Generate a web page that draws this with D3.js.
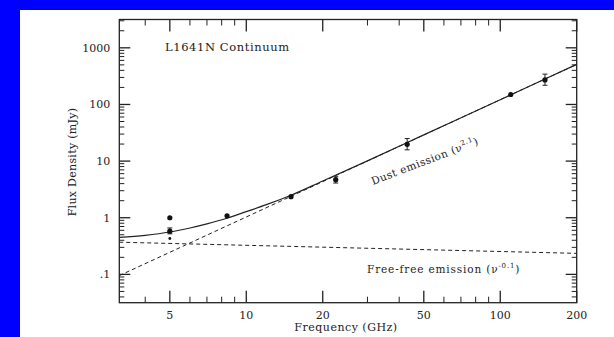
<!DOCTYPE html>
<html>
<head>
<meta charset="utf-8">
<script src="https://cdn.jsdelivr.net/npm/d3@7"></script>
<style>
  html, body { margin: 0; padding: 0; background: #0000fe; }
  svg { display: block; }
  text { font-family: "DejaVu Serif", "Liberation Serif", serif; fill: #222; }
</style>
</head>
<body>
<svg id="chart" width="614" height="337"></svg>
<script>
// ---- data ----
const xTickValues = [5, 10, 20, 50, 100, 200];
const xTickLabels = ["5", "10", "20", "50", "100", "200"];
const xMinorTicks = [4, 6, 7, 8, 9, 30, 40, 60, 70, 80, 90];
const yTickValues = [0.1, 1, 10, 100, 1000];
const yTickLabels = [".1", "1", "10", "100", "1000"];

const obsFreq  = [5, 5, 5, 8.4, 15, 22.5, 43, 110, 150];
const obsFlux  = [1.0, 0.58, 0.43, 1.08, 2.35, 4.7, 19.8, 150, 271];
const obsErrLo = [null, 0.52, null, null, null, 4.1, 15.8, null, 218];
const obsErrHi = [null, 0.66, null, null, null, 5.3, 25, null, 343];
const obsSmall = [false, false, true, false, false, false, false, false, false];

const totalFreq = [3.16, 4, 5, 6, 7, 8.4, 10, 12, 15, 20, 30, 50, 100, 150, 200];
const totalFlux = [0.45, 0.49, 0.56, 0.66, 0.78, 0.98, 1.28, 1.7, 2.5, 4.45, 10.1, 29, 121, 282, 510];

const dustFreq = [3.16, 200];
const dustFlux = [0.095, 510];

const ffFreq = [3.16, 200];
const ffFlux = [0.37, 0.235];

// ---- layout ----
const svg = d3.select("#chart");
svg.append("rect").attr("x", 20).attr("y", 10).attr("width", 594).attr("height", 327).attr("fill", "#ffffff");

const x0 = 119.3, x1 = 576.7, y0 = 19.5, y1 = 302.7;
const x = d3.scaleLog().domain([Math.pow(10, 0.5), 200]).range([x0, x1]);
const y = d3.scaleLog().domain([Math.pow(10, -1.5), Math.pow(10, 3.5)]).range([y1, y0]);

const ink = "#222";
const g = svg.append("g");

// frame
g.append("rect").attr("x", x0).attr("y", y0).attr("width", x1 - x0).attr("height", y1 - y0)
  .attr("fill", "none").attr("stroke", ink).attr("stroke-width", 1.3);

// y ticks (log minors)
const yTicks = [];
for (let e = -2; e <= 3; e++) {
  for (let k = 1; k <= 9; k++) {
    const v = k * Math.pow(10, e);
    if (v > y.domain()[0] && v < y.domain()[1]) yTicks.push({ v, major: k === 1 });
  }
}
const yt = g.append("g");
yTicks.forEach(t => {
  const L = t.major ? 11 : 5;
  yt.append("line").attr("x1", x0).attr("x2", x0 + L).attr("y1", y(t.v)).attr("y2", y(t.v))
    .attr("stroke", ink).attr("stroke-width", t.major ? 1.3 : 1);
  yt.append("line").attr("x1", x1).attr("x2", x1 - L).attr("y1", y(t.v)).attr("y2", y(t.v))
    .attr("stroke", ink).attr("stroke-width", t.major ? 1.3 : 1);
});
yTickValues.forEach((v, i) => {
  g.append("text").attr("x", x0 - 9).attr("y", y(v)).attr("dy", "0.35em")
    .attr("text-anchor", "end").attr("font-size", 11).text(yTickLabels[i]);
});

// x ticks
const xt = g.append("g");
xTickValues.concat(xMinorTicks).forEach(v => {
  const major = xTickValues.includes(v);
  const L = major ? 12 : 6;
  xt.append("line").attr("x1", x(v)).attr("x2", x(v)).attr("y1", y1).attr("y2", y1 - L)
    .attr("stroke", ink).attr("stroke-width", major ? 1.3 : 1);
  xt.append("line").attr("x1", x(v)).attr("x2", x(v)).attr("y1", y0).attr("y2", y0 + L)
    .attr("stroke", ink).attr("stroke-width", major ? 1.3 : 1);
});
xTickValues.forEach((v, i) => {
  g.append("text").attr("x", x(v)).attr("y", 319).attr("text-anchor", "middle")
    .attr("font-size", 11).text(xTickLabels[i]);
});

// axis titles
g.append("text").attr("x", 346).attr("y", 331).attr("text-anchor", "middle")
  .attr("font-size", 11).attr("letter-spacing", 0.5).text("Frequency (GHz)");
g.append("text").attr("transform", "translate(76,162) rotate(-90)").attr("text-anchor", "middle")
  .attr("font-size", 11).attr("letter-spacing", 0.3).text("Flux Density (mJy)");

// title
g.append("text").attr("x", 165).attr("y", 50.5).attr("font-size", 11.5)
  .attr("letter-spacing", 0.6).text("L1641N Continuum");

// model lines
const line = d3.line().x(d => x(d[0])).y(d => y(d[1]));
const lineCurve = d3.line().x(d => x(d[0])).y(d => y(d[1])).curve(d3.curveMonotoneX);

g.append("path").datum(dustFreq.map((f, i) => [f, dustFlux[i]])).attr("d", line)
  .attr("fill", "none").attr("stroke", ink).attr("stroke-width", 1).attr("stroke-dasharray", "4,3");
g.append("path").datum(ffFreq.map((f, i) => [f, ffFlux[i]])).attr("d", line)
  .attr("fill", "none").attr("stroke", ink).attr("stroke-width", 1).attr("stroke-dasharray", "4,3");
g.append("path").datum(totalFreq.map((f, i) => [f, totalFlux[i]])).attr("d", lineCurve)
  .attr("fill", "none").attr("stroke", ink).attr("stroke-width", 1.2);

// observations
obsFreq.forEach((f, i) => {
  if (obsErrLo[i] !== null) {
    const cx = x(f);
    g.append("line").attr("x1", cx).attr("x2", cx).attr("y1", y(obsErrLo[i])).attr("y2", y(obsErrHi[i]))
      .attr("stroke", ink).attr("stroke-width", 1);
    [obsErrLo[i], obsErrHi[i]].forEach(v => {
      g.append("line").attr("x1", cx - 2.5).attr("x2", cx + 2.5).attr("y1", y(v)).attr("y2", y(v))
        .attr("stroke", ink).attr("stroke-width", 1);
    });
  }
  g.append("circle").attr("cx", x(f)).attr("cy", y(obsFlux[i])).attr("r", obsSmall[i] ? 1.4 : 2.6)
    .attr("fill", "#111");
});

// annotations
const dust = g.append("text").attr("transform", "translate(373,185) rotate(-21)")
  .attr("font-size", 10.5).attr("letter-spacing", 0.5);
dust.append("tspan").text("Dust emission (\u03BD");
dust.append("tspan").attr("dy", -5).attr("font-size", 7).text("2.1");
dust.append("tspan").attr("dy", 5).text(")");

const ff = g.append("text").attr("x", 367).attr("y", 273).attr("font-size", 10.5).attr("letter-spacing", 0.85);
ff.append("tspan").text("Free-free emission (\u03BD");
ff.append("tspan").attr("dy", -5).attr("font-size", 7).text("-0.1");
ff.append("tspan").attr("dy", 5).text(")");
</script>
</body>
</html>
